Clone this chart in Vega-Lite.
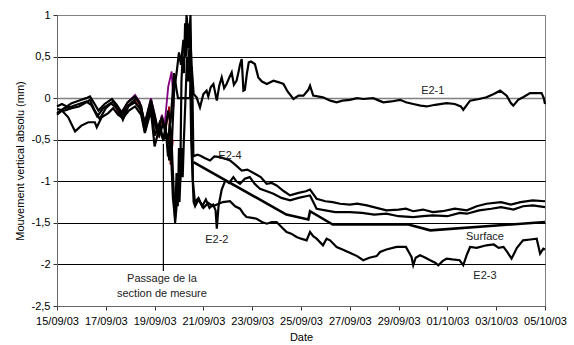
{
  "$schema": "https://vega.github.io/schema/vega-lite/v6.json",
  "width": 488,
  "height": 291,
  "autosize": "none",
  "padding": {"left": 57, "top": 15, "right": 29, "bottom": 39},
  "background": "white",
  "config": {
    "font": "Liberation Sans",
    "view": {"stroke": "#808080", "strokeWidth": 1},
    "axis": {"labelFont": "Liberation Sans", "titleFont": "Liberation Sans", "labelFontSize": 11, "titleFontSize": 11, "titleFontWeight": "normal", "labelColor": "#000", "titleColor": "#000", "domainColor": "#666", "tickColor": "#333", "tickSize": 4}
  },
  "datasets": {
    "lines": [
      {"s":"E2-1","d":0,"v":-0.10},{"s":"E2-1","d":0.2,"v":-0.07},{"s":"E2-1","d":0.4,"v":-0.10},{"s":"E2-1","d":0.6,"v":-0.06},{"s":"E2-1","d":0.8,"v":-0.04},{"s":"E2-1","d":1.0,"v":-0.02},{"s":"E2-1","d":1.2,"v":0.0},{"s":"E2-1","d":1.35,"v":0.02},{"s":"E2-1","d":1.5,"v":-0.05},{"s":"E2-1","d":1.7,"v":-0.15},{"s":"E2-1","d":1.95,"v":-0.07},{"s":"E2-1","d":2.25,"v":-0.01},{"s":"E2-1","d":2.45,"v":-0.08},{"s":"E2-1","d":2.65,"v":-0.17},{"s":"E2-1","d":2.9,"v":-0.05},{"s":"E2-1","d":3.2,"v":0.02},{"s":"E2-1","d":3.4,"v":-0.07},{"s":"E2-1","d":3.6,"v":-0.3},{"s":"E2-1","d":3.85,"v":-0.02},{"s":"E2-1","d":4.0,"v":-0.2},{"s":"E2-1","d":4.15,"v":-0.4},{"s":"E2-1","d":4.3,"v":-0.22},{"s":"E2-1","d":4.43,"v":-0.4},{"s":"E2-1","d":4.55,"v":-0.15},{"s":"E2-1","d":4.65,"v":-0.3},{"s":"E2-1","d":4.8,"v":0.3},{"s":"E2-1","d":4.9,"v":0.1},{"s":"E2-1","d":4.96,"v":0.0},{"s":"E2-1","d":5.45,"v":0.0},{"s":"E2-1","d":5.52,"v":0.38},{"s":"E2-1","d":5.6,"v":0.05},{"s":"E2-1","d":5.72,"v":0.01},{"s":"E2-1","d":5.86,"v":-0.11},{"s":"E2-1","d":6.0,"v":0.05},{"s":"E2-1","d":6.13,"v":0.09},{"s":"E2-1","d":6.2,"v":0.02},{"s":"E2-1","d":6.3,"v":0.13},{"s":"E2-1","d":6.41,"v":0.17},{"s":"E2-1","d":6.55,"v":-0.03},{"s":"E2-1","d":6.65,"v":0.15},{"s":"E2-1","d":6.75,"v":0.25},{"s":"E2-1","d":6.85,"v":0.12},{"s":"E2-1","d":6.95,"v":0.17},{"s":"E2-1","d":7.05,"v":0.24},{"s":"E2-1","d":7.16,"v":0.31},{"s":"E2-1","d":7.25,"v":0.16},{"s":"E2-1","d":7.36,"v":0.21},{"s":"E2-1","d":7.45,"v":0.33},{"s":"E2-1","d":7.5,"v":0.4},{"s":"E2-1","d":7.57,"v":0.47},{"s":"E2-1","d":7.64,"v":0.09},{"s":"E2-1","d":7.7,"v":0.1},{"s":"E2-1","d":7.78,"v":0.29},{"s":"E2-1","d":7.86,"v":0.43},{"s":"E2-1","d":7.95,"v":0.44},{"s":"E2-1","d":8.11,"v":0.41},{"s":"E2-1","d":8.25,"v":0.25},{"s":"E2-1","d":8.4,"v":0.2},{"s":"E2-1","d":8.6,"v":0.17},{"s":"E2-1","d":8.87,"v":0.21},{"s":"E2-1","d":9.1,"v":0.19},{"s":"E2-1","d":9.28,"v":0.17},{"s":"E2-1","d":9.45,"v":0.08},{"s":"E2-1","d":9.69,"v":-0.01},{"s":"E2-1","d":9.9,"v":0.03},{"s":"E2-1","d":10.1,"v":0.03},{"s":"E2-1","d":10.3,"v":0.1},{"s":"E2-1","d":10.37,"v":0.15},{"s":"E2-1","d":10.5,"v":0.03},{"s":"E2-1","d":10.9,"v":0.01},{"s":"E2-1","d":11.2,"v":-0.03},{"s":"E2-1","d":11.46,"v":-0.05},{"s":"E2-1","d":11.7,"v":-0.03},{"s":"E2-1","d":12.0,"v":-0.02},{"s":"E2-1","d":12.3,"v":0.0},{"s":"E2-1","d":12.55,"v":-0.01},{"s":"E2-1","d":12.96,"v":0.0},{"s":"E2-1","d":13.2,"v":-0.03},{"s":"E2-1","d":13.37,"v":-0.05},{"s":"E2-1","d":13.7,"v":-0.04},{"s":"E2-1","d":14.06,"v":-0.02},{"s":"E2-1","d":14.3,"v":-0.05},{"s":"E2-1","d":14.6,"v":-0.07},{"s":"E2-1","d":14.9,"v":-0.09},{"s":"E2-1","d":15.15,"v":-0.1},{"s":"E2-1","d":15.5,"v":-0.08},{"s":"E2-1","d":15.97,"v":-0.06},{"s":"E2-1","d":16.3,"v":-0.07},{"s":"E2-1","d":16.55,"v":-0.1},{"s":"E2-1","d":16.65,"v":-0.14},{"s":"E2-1","d":16.93,"v":-0.03},{"s":"E2-1","d":17.3,"v":-0.01},{"s":"E2-1","d":17.6,"v":0.01},{"s":"E2-1","d":17.9,"v":0.05},{"s":"E2-1","d":18.16,"v":0.09},{"s":"E2-1","d":18.43,"v":0.03},{"s":"E2-1","d":18.6,"v":-0.06},{"s":"E2-1","d":18.7,"v":-0.09},{"s":"E2-1","d":18.9,"v":-0.02},{"s":"E2-1","d":19.1,"v":0.01},{"s":"E2-1","d":19.39,"v":0.06},{"s":"E2-1","d":19.6,"v":0.06},{"s":"E2-1","d":19.86,"v":0.06},{"s":"E2-1","d":19.95,"v":0.0},{"s":"E2-1","d":20,"v":-0.07},

      {"s":"E2-4","d":0,"v":-0.13},{"s":"E2-4","d":0.3,"v":-0.15},{"s":"E2-4","d":0.6,"v":-0.12},{"s":"E2-4","d":0.9,"v":-0.1},{"s":"E2-4","d":1.2,"v":-0.05},{"s":"E2-4","d":1.35,"v":-0.02},{"s":"E2-4","d":1.55,"v":-0.15},{"s":"E2-4","d":1.75,"v":-0.25},{"s":"E2-4","d":2.0,"v":-0.12},{"s":"E2-4","d":2.3,"v":-0.04},{"s":"E2-4","d":2.55,"v":-0.15},{"s":"E2-4","d":2.7,"v":-0.26},{"s":"E2-4","d":2.95,"v":-0.08},{"s":"E2-4","d":3.25,"v":0.0},{"s":"E2-4","d":3.45,"v":-0.1},{"s":"E2-4","d":3.6,"v":-0.35},{"s":"E2-4","d":3.85,"v":-0.05},{"s":"E2-4","d":4.05,"v":-0.35},{"s":"E2-4","d":4.2,"v":-0.45},{"s":"E2-4","d":4.35,"v":-0.3},{"s":"E2-4","d":4.43,"v":-0.35},{"s":"E2-4","d":4.55,"v":-0.55},{"s":"E2-4","d":4.62,"v":-0.3},{"s":"E2-4","d":4.7,"v":-0.6},{"s":"E2-4","d":4.8,"v":0.1},{"s":"E2-4","d":4.9,"v":0.3},{"s":"E2-4","d":5.0,"v":0.55},{"s":"E2-4","d":5.08,"v":0.4},{"s":"E2-4","d":5.18,"v":0.7},{"s":"E2-4","d":5.25,"v":0.5},{"s":"E2-4","d":5.31,"v":1.0},{"s":"E2-4","d":5.38,"v":0.75},{"s":"E2-4","d":5.44,"v":0.9},{"s":"E2-4","d":5.5,"v":0.5},{"s":"E2-4","d":5.55,"v":0.1},{"s":"E2-4","d":5.59,"v":-0.7},{"s":"E2-4","d":5.75,"v":-0.68},{"s":"E2-4","d":5.86,"v":-0.69},{"s":"E2-4","d":6.05,"v":-0.72},{"s":"E2-4","d":6.27,"v":-0.75},{"s":"E2-4","d":6.45,"v":-0.7},{"s":"E2-4","d":6.68,"v":-0.71},{"s":"E2-4","d":6.9,"v":-0.73},{"s":"E2-4","d":7.09,"v":-0.75},{"s":"E2-4","d":7.3,"v":-0.8},{"s":"E2-4","d":7.57,"v":-0.87},{"s":"E2-4","d":7.8,"v":-0.86},{"s":"E2-4","d":8.11,"v":-0.91},{"s":"E2-4","d":8.35,"v":-0.95},{"s":"E2-4","d":8.59,"v":-1.03},{"s":"E2-4","d":8.8,"v":-1.02},{"s":"E2-4","d":9.0,"v":-1.05},{"s":"E2-4","d":9.3,"v":-1.12},{"s":"E2-4","d":9.55,"v":-1.17},{"s":"E2-4","d":9.9,"v":-1.14},{"s":"E2-4","d":10.2,"v":-1.12},{"s":"E2-4","d":10.37,"v":-1.1},{"s":"E2-4","d":10.64,"v":-1.21},{"s":"E2-4","d":11.0,"v":-1.24},{"s":"E2-4","d":11.3,"v":-1.25},{"s":"E2-4","d":11.6,"v":-1.27},{"s":"E2-4","d":12.0,"v":-1.28},{"s":"E2-4","d":12.3,"v":-1.27},{"s":"E2-4","d":12.7,"v":-1.29},{"s":"E2-4","d":13.1,"v":-1.32},{"s":"E2-4","d":13.5,"v":-1.35},{"s":"E2-4","d":14.0,"v":-1.34},{"s":"E2-4","d":14.3,"v":-1.33},{"s":"E2-4","d":14.6,"v":-1.36},{"s":"E2-4","d":15.0,"v":-1.34},{"s":"E2-4","d":15.4,"v":-1.37},{"s":"E2-4","d":15.8,"v":-1.36},{"s":"E2-4","d":16.3,"v":-1.33},{"s":"E2-4","d":16.8,"v":-1.35},{"s":"E2-4","d":17.2,"v":-1.3},{"s":"E2-4","d":17.6,"v":-1.27},{"s":"E2-4","d":18.2,"v":-1.25},{"s":"E2-4","d":18.6,"v":-1.28},{"s":"E2-4","d":19.0,"v":-1.25},{"s":"E2-4","d":19.5,"v":-1.23},{"s":"E2-4","d":20,"v":-1.24},

      {"s":"E2-2","d":0,"v":-0.18},{"s":"E2-2","d":0.3,"v":-0.12},{"s":"E2-2","d":0.6,"v":-0.1},{"s":"E2-2","d":0.9,"v":-0.07},{"s":"E2-2","d":1.2,"v":-0.04},{"s":"E2-2","d":1.4,"v":-0.08},{"s":"E2-2","d":1.65,"v":-0.22},{"s":"E2-2","d":1.9,"v":-0.12},{"s":"E2-2","d":2.2,"v":-0.06},{"s":"E2-2","d":2.45,"v":-0.12},{"s":"E2-2","d":2.65,"v":-0.22},{"s":"E2-2","d":2.9,"v":-0.1},{"s":"E2-2","d":3.2,"v":-0.05},{"s":"E2-2","d":3.45,"v":-0.15},{"s":"E2-2","d":3.6,"v":-0.4},{"s":"E2-2","d":3.85,"v":-0.1},{"s":"E2-2","d":4.0,"v":-0.45},{"s":"E2-2","d":4.2,"v":-0.3},{"s":"E2-2","d":4.35,"v":-0.5},{"s":"E2-2","d":4.45,"v":-0.35},{"s":"E2-2","d":4.55,"v":-0.7},{"s":"E2-2","d":4.65,"v":-0.5},{"s":"E2-2","d":4.75,"v":-1.2},{"s":"E2-2","d":4.84,"v":-1.45},{"s":"E2-2","d":4.9,"v":-0.9},{"s":"E2-2","d":4.95,"v":-1.3},{"s":"E2-2","d":5.0,"v":-0.6},{"s":"E2-2","d":5.05,"v":-1.0},{"s":"E2-2","d":5.1,"v":0.2},{"s":"E2-2","d":5.15,"v":0.5},{"s":"E2-2","d":5.2,"v":0.3},{"s":"E2-2","d":5.25,"v":0.9},{"s":"E2-2","d":5.3,"v":0.5},{"s":"E2-2","d":5.35,"v":0.8},{"s":"E2-2","d":5.4,"v":0.6},{"s":"E2-2","d":5.47,"v":1.0},{"s":"E2-2","d":5.52,"v":0.0},{"s":"E2-2","d":5.57,"v":-1.0},{"s":"E2-2","d":5.65,"v":-1.25},{"s":"E2-2","d":5.8,"v":-1.2},{"s":"E2-2","d":5.95,"v":-1.3},{"s":"E2-2","d":6.1,"v":-1.22},{"s":"E2-2","d":6.25,"v":-1.32},{"s":"E2-2","d":6.4,"v":-1.28},{"s":"E2-2","d":6.5,"v":-1.35},{"s":"E2-2","d":6.55,"v":-1.57},{"s":"E2-2","d":6.62,"v":-1.3},{"s":"E2-2","d":6.75,"v":-1.1},{"s":"E2-2","d":6.9,"v":-0.99},{"s":"E2-2","d":7.05,"v":-1.02},{"s":"E2-2","d":7.23,"v":-0.95},{"s":"E2-2","d":7.35,"v":-1.0},{"s":"E2-2","d":7.5,"v":-1.03},{"s":"E2-2","d":7.7,"v":-0.97},{"s":"E2-2","d":7.9,"v":-0.95},{"s":"E2-2","d":8.1,"v":-1.03},{"s":"E2-2","d":8.32,"v":-1.09},{"s":"E2-2","d":8.6,"v":-1.12},{"s":"E2-2","d":8.87,"v":-1.15},{"s":"E2-2","d":9.2,"v":-1.2},{"s":"E2-2","d":9.55,"v":-1.23},{"s":"E2-2","d":9.9,"v":-1.2},{"s":"E2-2","d":10.2,"v":-1.18},{"s":"E2-2","d":10.37,"v":-1.17},{"s":"E2-2","d":10.64,"v":-1.33},{"s":"E2-2","d":11.0,"v":-1.35},{"s":"E2-2","d":11.4,"v":-1.37},{"s":"E2-2","d":12.0,"v":-1.37},{"s":"E2-2","d":12.5,"v":-1.38},{"s":"E2-2","d":13.0,"v":-1.4},{"s":"E2-2","d":13.5,"v":-1.39},{"s":"E2-2","d":14.0,"v":-1.42},{"s":"E2-2","d":14.6,"v":-1.43},{"s":"E2-2","d":15.0,"v":-1.42},{"s":"E2-2","d":15.4,"v":-1.41},{"s":"E2-2","d":16.0,"v":-1.42},{"s":"E2-2","d":16.5,"v":-1.38},{"s":"E2-2","d":16.8,"v":-1.39},{"s":"E2-2","d":17.3,"v":-1.35},{"s":"E2-2","d":17.8,"v":-1.33},{"s":"E2-2","d":18.2,"v":-1.31},{"s":"E2-2","d":18.7,"v":-1.34},{"s":"E2-2","d":19.1,"v":-1.3},{"s":"E2-2","d":19.5,"v":-1.29},{"s":"E2-2","d":20,"v":-1.31},

      {"s":"E2-3","d":0,"v":-0.2},{"s":"E2-3","d":0.2,"v":-0.15},{"s":"E2-3","d":0.46,"v":-0.23},{"s":"E2-3","d":0.74,"v":-0.4},{"s":"E2-3","d":1.0,"v":-0.33},{"s":"E2-3","d":1.28,"v":-0.29},{"s":"E2-3","d":1.55,"v":-0.29},{"s":"E2-3","d":1.63,"v":-0.35},{"s":"E2-3","d":1.83,"v":-0.23},{"s":"E2-3","d":2.1,"v":-0.18},{"s":"E2-3","d":2.3,"v":-0.12},{"s":"E2-3","d":2.5,"v":-0.2},{"s":"E2-3","d":2.7,"v":-0.24},{"s":"E2-3","d":2.95,"v":-0.15},{"s":"E2-3","d":3.2,"v":-0.1},{"s":"E2-3","d":3.45,"v":-0.2},{"s":"E2-3","d":3.6,"v":-0.42},{"s":"E2-3","d":3.85,"v":-0.15},{"s":"E2-3","d":4.0,"v":-0.58},{"s":"E2-3","d":4.2,"v":-0.35},{"s":"E2-3","d":4.35,"v":-0.5},{"s":"E2-3","d":4.5,"v":-0.45},{"s":"E2-3","d":4.6,"v":-0.75},{"s":"E2-3","d":4.7,"v":-0.55},{"s":"E2-3","d":4.78,"v":-1.1},{"s":"E2-3","d":4.84,"v":-1.5},{"s":"E2-3","d":4.9,"v":-1.3},{"s":"E2-3","d":4.95,"v":-0.9},{"s":"E2-3","d":5.02,"v":-1.25},{"s":"E2-3","d":5.1,"v":-0.6},{"s":"E2-3","d":5.15,"v":-0.95},{"s":"E2-3","d":5.2,"v":-0.5},{"s":"E2-3","d":5.28,"v":0.1},{"s":"E2-3","d":5.33,"v":0.5},{"s":"E2-3","d":5.38,"v":0.2},{"s":"E2-3","d":5.42,"v":0.6},{"s":"E2-3","d":5.46,"v":0.3},{"s":"E2-3","d":5.5,"v":-0.5},{"s":"E2-3","d":5.55,"v":-0.9},{"s":"E2-3","d":5.6,"v":-1.25},{"s":"E2-3","d":5.66,"v":-1.3},{"s":"E2-3","d":5.8,"v":-1.22},{"s":"E2-3","d":6.0,"v":-1.32},{"s":"E2-3","d":6.2,"v":-1.26},{"s":"E2-3","d":6.4,"v":-1.3},{"s":"E2-3","d":6.55,"v":-1.28},{"s":"E2-3","d":6.8,"v":-1.25},{"s":"E2-3","d":7.09,"v":-1.24},{"s":"E2-3","d":7.3,"v":-1.3},{"s":"E2-3","d":7.5,"v":-1.33},{"s":"E2-3","d":7.64,"v":-1.39},{"s":"E2-3","d":7.77,"v":-1.43},{"s":"E2-3","d":8.0,"v":-1.44},{"s":"E2-3","d":8.18,"v":-1.45},{"s":"E2-3","d":8.4,"v":-1.49},{"s":"E2-3","d":8.6,"v":-1.51},{"s":"E2-3","d":8.8,"v":-1.49},{"s":"E2-3","d":9.0,"v":-1.49},{"s":"E2-3","d":9.2,"v":-1.55},{"s":"E2-3","d":9.41,"v":-1.61},{"s":"E2-3","d":9.6,"v":-1.63},{"s":"E2-3","d":9.82,"v":-1.67},{"s":"E2-3","d":10.0,"v":-1.69},{"s":"E2-3","d":10.23,"v":-1.71},{"s":"E2-3","d":10.37,"v":-1.61},{"s":"E2-3","d":10.5,"v":-1.66},{"s":"E2-3","d":10.64,"v":-1.69},{"s":"E2-3","d":10.9,"v":-1.77},{"s":"E2-3","d":11.05,"v":-1.69},{"s":"E2-3","d":11.19,"v":-1.71},{"s":"E2-3","d":11.46,"v":-1.79},{"s":"E2-3","d":11.7,"v":-1.82},{"s":"E2-3","d":12.0,"v":-1.86},{"s":"E2-3","d":12.3,"v":-1.9},{"s":"E2-3","d":12.55,"v":-1.95},{"s":"E2-3","d":12.8,"v":-1.92},{"s":"E2-3","d":13.1,"v":-1.9},{"s":"E2-3","d":13.24,"v":-1.85},{"s":"E2-3","d":13.5,"v":-1.82},{"s":"E2-3","d":13.92,"v":-1.79},{"s":"E2-3","d":14.3,"v":-1.79},{"s":"E2-3","d":14.53,"v":-1.91},{"s":"E2-3","d":14.6,"v":-2.01},{"s":"E2-3","d":14.7,"v":-1.92},{"s":"E2-3","d":14.88,"v":-1.89},{"s":"E2-3","d":15.1,"v":-1.92},{"s":"E2-3","d":15.29,"v":-1.95},{"s":"E2-3","d":15.5,"v":-1.98},{"s":"E2-3","d":15.63,"v":-2.01},{"s":"E2-3","d":15.8,"v":-1.96},{"s":"E2-3","d":15.97,"v":-1.93},{"s":"E2-3","d":16.2,"v":-1.94},{"s":"E2-3","d":16.5,"v":-1.95},{"s":"E2-3","d":16.65,"v":-2.01},{"s":"E2-3","d":16.8,"v":-1.88},{"s":"E2-3","d":16.93,"v":-1.79},{"s":"E2-3","d":17.2,"v":-1.8},{"s":"E2-3","d":17.6,"v":-1.77},{"s":"E2-3","d":17.9,"v":-1.76},{"s":"E2-3","d":18.1,"v":-1.8},{"s":"E2-3","d":18.3,"v":-1.79},{"s":"E2-3","d":18.45,"v":-1.85},{"s":"E2-3","d":18.63,"v":-1.93},{"s":"E2-3","d":18.85,"v":-1.8},{"s":"E2-3","d":19.1,"v":-1.71},{"s":"E2-3","d":19.4,"v":-1.7},{"s":"E2-3","d":19.66,"v":-1.69},{"s":"E2-3","d":19.8,"v":-1.87},{"s":"E2-3","d":19.93,"v":-1.81},{"s":"E2-3","d":20,"v":-1.82}
    ],
    "colored": [
      {"s":"P","d":2.4,"v":-0.12},{"s":"P","d":2.65,"v":-0.2},{"s":"P","d":2.9,"v":-0.05},{"s":"P","d":3.2,"v":0.04},{"s":"P","d":3.4,"v":-0.05},{"s":"P","d":3.6,"v":-0.3},{"s":"P","d":3.85,"v":0.0},{"s":"P","d":4.0,"v":-0.2},{"s":"P","d":4.15,"v":-0.42},{"s":"P","d":4.3,"v":-0.2},{"s":"P","d":4.4,"v":-0.35},{"s":"P","d":4.56,"v":0.14},{"s":"P","d":4.7,"v":0.32},{"s":"P","d":4.78,"v":-0.1},
      {"s":"R","d":2.4,"v":-0.15},{"s":"R","d":2.65,"v":-0.22},{"s":"R","d":2.9,"v":-0.1},{"s":"R","d":3.2,"v":-0.03},{"s":"R","d":3.4,"v":-0.12},{"s":"R","d":3.6,"v":-0.38},{"s":"R","d":3.85,"v":-0.06},{"s":"R","d":4.0,"v":-0.3},{"s":"R","d":4.15,"v":-0.47},{"s":"R","d":4.3,"v":-0.25},{"s":"R","d":4.45,"v":-0.38},{"s":"R","d":4.6,"v":-0.1},{"s":"R","d":4.65,"v":-0.8},{"s":"R","d":4.75,"v":-0.5}
    ],
    "surface": [
      {"s":"Surface","d":5.59,"v":-0.77},{"s":"Surface","d":9.4,"v":-1.40},{"s":"Surface","d":10.3,"v":-1.46},{"s":"Surface","d":10.37,"v":-1.36},{"s":"Surface","d":11.3,"v":-1.52},{"s":"Surface","d":14.4,"v":-1.52},{"s":"Surface","d":15.3,"v":-1.59},{"s":"Surface","d":20,"v":-1.49}
    ],
    "passage": [{"d":4.36,"v":-0.55,"v2":-2.08}],
    "labels": [
      {"label":"E2-1","d":15.4,"v":0.085},
      {"label":"E2-4","d":7.09,"v":-0.69},
      {"label":"E2-2","d":6.55,"v":-1.71},
      {"label":"Surface","d":17.54,"v":-1.675},
      {"label":"E2-3","d":17.54,"v":-2.136},
      {"label":"Passage de la","d":4.3,"v":-2.17},
      {"label":"section de mesure","d":4.3,"v":-2.35}
    ]
  },
  "encoding": {
    "x": {
      "field": "d", "type": "quantitative",
      "scale": {"domain": [0, 20], "nice": false, "zero": false},
      "axis": {
        "title": "Date", "values": [0,2,4,6,8,10,12,14,16,18,20], "grid": false,
        "labelExpr": "['15/09/03','17/09/03','19/09/03','21/09/03','23/09/03','25/09/03','27/09/03','29/09/03','01/10/03','03/10/03','05/10/03'][round(datum.value/2)]",
        "labelPadding": 5, "titlePadding": 5, "labelFlush": false, "labelOverlap": false
      }
    },
    "y": {
      "field": "v", "type": "quantitative",
      "scale": {"domain": [-2.5, 1], "nice": false, "zero": false},
      "axis": {
        "title": "Mouvement vertical absolu (mm)",
        "values": [-2.5,-2,-1.5,-1,-0.5,0,0.5,1],
        "labelExpr": "replace(datum.value + '', '.', ',')",
        "grid": true,
        "gridColor": {"condition": {"test": "datum.value === 0 || datum.value === 1 || datum.value === -2.5", "value": "#808080"}, "value": "#000000"},
        "gridWidth": {"condition": {"test": "datum.value === 0", "value": 1.6}, "value": 1},
        "labelPadding": 3, "titlePadding": 6, "labelFlush": false, "labelOverlap": false
      }
    }
  },
  "layer": [
    {
      "data": {"name": "colored"},
      "mark": {"type": "line", "strokeWidth": 1.8},
      "encoding": {
        "color": {"field": "s", "type": "nominal", "scale": {"domain": ["P", "R"], "range": ["#800080", "#990000"]}, "legend": null}
      }
    },
    {
      "data": {"name": "lines"},
      "mark": {"type": "line", "strokeWidth": 2.2, "color": "#000000"},
      "encoding": {"detail": {"field": "s"}}
    },
    {
      "data": {"name": "surface"},
      "mark": {"type": "line", "strokeWidth": 2.6, "color": "#000000"},
      "encoding": {}
    },
    {
      "data": {"name": "passage"},
      "mark": {"type": "rule", "strokeWidth": 1.2, "color": "#000000"},
      "encoding": {"y2": {"field": "v2"}}
    },
    {
      "data": {"name": "labels"},
      "mark": {"type": "text", "font": "Liberation Sans", "fontSize": 11, "color": "#222222", "align": "center", "baseline": "middle"},
      "encoding": {"text": {"field": "label"}}
    }
  ]
}
